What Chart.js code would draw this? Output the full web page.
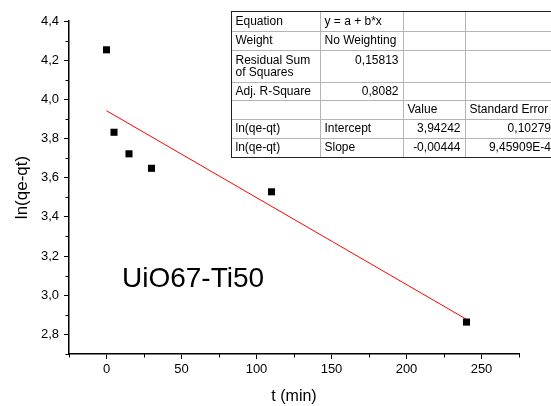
<!DOCTYPE html>
<html>
<head>
<meta charset="utf-8">
<script src="https://cdn.jsdelivr.net/npm/chart.js@4"></script>
<style>
  body { margin: 0; background: #fff; }
  #wrap { width: 551px; height: 406px; }
</style>
</head>
<body>
<div id="wrap"><canvas id="myChart" width="551" height="406"></canvas></div>
<script>
// measured points
const timeMin = [0, 5, 15, 30, 110, 240];
const lnValues = [4.253, 3.832, 3.722, 3.648, 3.528, 2.863];

// linear fit line (ends)
const fitTime = [0, 240];
const fitValues = [3.942, 2.877];

const xTitle = "t (min)";
const yTitle = "ln(qe-qt)";
const sampleName = "UiO67-Ti50";

// fit table (Origin style)
const tableRows = [
  ["Equation", "y = a + b*x", "", ""],
  ["Weight", "No Weighting", "", ""],
  ["Residual Sum\nof Squares", "0,15813", "", ""],
  ["Adj. R-Square", "0,8082", "", ""],
  ["", "", "Value", "Standard Error"],
  ["ln(qe-qt)", "Intercept", "3,94242", "0,10279"],
  ["ln(qe-qt)", "Slope", "-0,00444", "9,45909E-4"],
];

const FONT = "'Liberation Sans', Arial, sans-serif";
Chart.defaults.font.family = FONT;
Chart.defaults.color = "#000";

const isMajorX = (v) => Math.round(v) % 50 === 0;
const isMajorY = (v) => Math.round(v * 10) % 2 === 0;

const extrasPlugin = {
  id: "extras",
  afterDraw(chart) {
    const ctx = chart.ctx;
    const xs = chart.scales.x;
    const ys = chart.scales.y;
    const area = chart.chartArea;

    // minor ticks
    ctx.save();
    ctx.strokeStyle = "#000";
    ctx.lineWidth = 1;
    ctx.beginPath();
    xs.ticks.forEach((t) => {
      if (isMajorX(t.value)) return;
      const px = Math.round(xs.getPixelForValue(t.value)) + 0.5;
      ctx.moveTo(px, area.bottom);
      ctx.lineTo(px, area.bottom + 3.5);
    });
    ys.ticks.forEach((t) => {
      if (isMajorY(t.value)) return;
      const py = Math.round(ys.getPixelForValue(t.value)) + 0.5;
      ctx.moveTo(area.left, py);
      ctx.lineTo(area.left - 3.5, py);
    });
    ctx.stroke();

    // sample name
    ctx.fillStyle = "#000";
    ctx.font = "28px " + FONT;
    ctx.textAlign = "left";
    ctx.textBaseline = "alphabetic";
    ctx.fillText(sampleName, 122, 287);

    // table
    const colX = [231.5, 320.5, 403.5, 465.5, 556];
    const rowY = [11.5, 31.5, 50.5, 82.5, 100.5, 119.5, 138.5, 157.5];
    ctx.fillStyle = "#fff";
    ctx.fillRect(colX[0], rowY[0], colX[4] - colX[0], rowY[7] - rowY[0]);

    ctx.strokeStyle = "#b4b4b4";
    ctx.beginPath();
    for (let i = 1; i < rowY.length - 1; i++) {
      ctx.moveTo(colX[0], rowY[i]);
      ctx.lineTo(colX[4], rowY[i]);
    }
    for (let j = 1; j < colX.length - 1; j++) {
      ctx.moveTo(colX[j], rowY[0]);
      ctx.lineTo(colX[j], rowY[7]);
    }
    ctx.stroke();
    ctx.strokeStyle = "#222";
    ctx.strokeRect(colX[0], rowY[0], colX[4] - colX[0], rowY[7] - rowY[0]);

    ctx.fillStyle = "#000";
    ctx.font = "12px " + FONT;
    ctx.textBaseline = "middle";
    tableRows.forEach((row, i) => {
      row.forEach((cell, j) => {
        if (!cell) return;
        const lines = cell.split("\n");
        const numeric = /^-?[0-9,E-]+$/.test(cell);
        ctx.textAlign = numeric ? "right" : "left";
        const x = numeric ? colX[j + 1] - 5 : colX[j] + 4;
        const top = rowY[i];
        const h = rowY[i + 1] - rowY[i];
        lines.forEach((ln, k) => {
          const y = lines.length > 1 || h > 25 ? top + 10 + k * 12 : top + h / 2;
          ctx.fillText(ln, x, y);
        });
      });
    });
    ctx.restore();
  },
};

const ctx = document.getElementById("myChart").getContext("2d");
const myChart = new Chart(ctx, {
  type: "scatter",
  data: {
    datasets: [
      {
        data: timeMin.map((t, i) => ({ x: t, y: lnValues[i] })),
        pointStyle: "rect",
        pointRadius: 5,
        pointHoverRadius: 5,
        backgroundColor: "#000",
        borderWidth: 0,
      },
      {
        data: fitTime.map((t, i) => ({ x: t, y: fitValues[i] })),
        showLine: true,
        pointRadius: 0,
        borderColor: "#ff0000",
        borderWidth: 1,
      },
    ],
  },
  options: {
    responsive: false,
    animation: false,
    layout: { padding: { top: 21, right: 32, left: 0, bottom: 0 } },
    plugins: {
      legend: { display: false },
      tooltip: { enabled: false },
    },
    scales: {
      x: {
        type: "linear",
        min: -25,
        max: 275,
        afterFit: (scale) => { scale.height = 52; },
        ticks: {
          stepSize: 25,
          autoSkip: false,
          maxRotation: 0,
          padding: 3,
          font: { size: 13 },
          color: "#000",
          callback: (v) => (isMajorX(v) ? String(Math.round(v)) : ""),
        },
        grid: {
          drawOnChartArea: false,
          drawTicks: true,
          tickLength: 5,
          tickWidth: 1,
          tickColor: (c) => (c.tick && isMajorX(c.tick.value) ? "#000" : "rgba(0,0,0,0)"),
        },
        border: { color: "#000", width: 1.5 },
        title: {
          display: true,
          text: xTitle,
          font: { size: 16 },
          color: "#000",
          padding: { top: 0, bottom: 0 },
        },
      },
      y: {
        min: 2.7,
        max: 4.4,
        afterFit: (scale) => { scale.width = 69; },
        ticks: {
          stepSize: 0.1,
          autoSkip: false,
          padding: 5,
          font: { size: 13 },
          color: "#000",
          callback: (v) => (isMajorY(v) ? v.toFixed(1).replace(".", ",") : ""),
        },
        grid: {
          drawOnChartArea: false,
          drawTicks: true,
          tickLength: 5,
          tickWidth: 1,
          tickColor: (c) => (c.tick && isMajorY(c.tick.value) ? "#000" : "rgba(0,0,0,0)"),
        },
        border: { color: "#000", width: 1.5 },
        title: {
          display: true,
          text: yTitle,
          font: { size: 17 },
          color: "#000",
          padding: { top: 12, bottom: 0 },
        },
      },
    },
  },
  plugins: [extrasPlugin],
});
</script>
</body>
</html>
